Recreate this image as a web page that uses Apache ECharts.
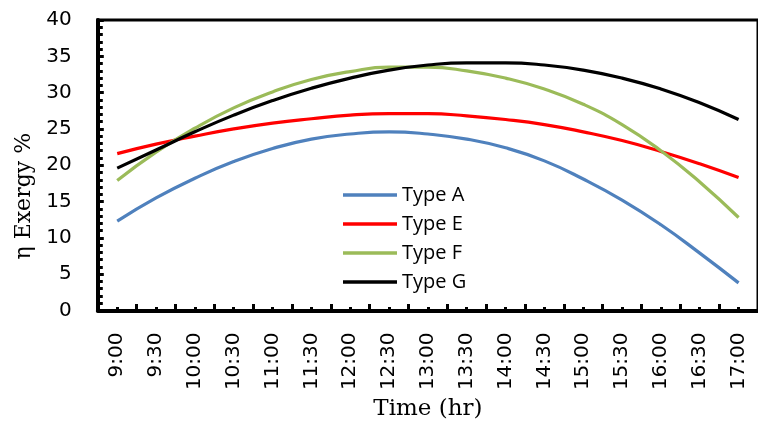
<!DOCTYPE html>
<html>
<head>
<meta charset="utf-8">
<script src="https://cdn.jsdelivr.net/npm/echarts@6/dist/echarts.min.js"></script>
<style>
  html, body { margin: 0; padding: 0; background: #fff; }
  #main { width: 758px; height: 426px; }
</style>
</head>
<body>
<div id="main"></div>
<script>
  // time of day, every half hour
  var times = ['9:00', '9:30', '10:00', '10:30', '11:00', '11:30', '12:00', '12:30', '13:00',
               '13:30', '14:00', '14:30', '15:00', '15:30', '16:00', '16:30', '17:00'];

  // exergy efficiency (%)
  var typeA = [12.3, 15.5, 18.2, 20.5, 22.3, 23.6, 24.3, 24.6, 24.3, 23.6, 22.4, 20.6, 18.1, 15.2, 11.8, 7.9, 3.8];
  var typeE = [21.6, 22.9, 24.0, 25.0, 25.8, 26.4, 26.9, 27.1, 27.1, 26.8, 26.3, 25.6, 24.6, 23.4, 21.9, 20.2, 18.3];
  var typeF = [17.9, 21.8, 25.1, 27.9, 30.1, 31.8, 32.9, 33.5, 33.5, 33.0, 32.0, 30.5, 28.4, 25.6, 22.0, 17.7, 12.8];
  var typeG = [19.6, 22.1, 24.6, 26.9, 28.9, 30.6, 32.0, 33.1, 33.8, 34.1, 34.1, 33.8, 33.1, 32.0, 30.5, 28.6, 26.3];

  var seriesNames = ['Type A', 'Type E', 'Type F', 'Type G'];
  var seriesColors = ['#4F81BD', '#FF0000', '#9BBB59', '#000000'];
  var yTicks = [0, 40, 5];

  function toHours(s) {
    var p = s.split(':');
    return +p[0] + (+p[1]) / 60;
  }

  function pairs(vals) {
    return vals.map(function (v, i) { return [toHours(times[i]), v]; });
  }

  // only the half hours get a label
  function fmtTime(v) {
    var q = Math.round(v * 4);
    if (q % 2) return '';
    return Math.floor(q / 4) + ':' + (q % 4 ? '30' : '00');
  }

  var xMin = toHours(times[0]) - 0.25;
  var xMax = toHours(times[times.length - 1]) + 0.25;

  var myChart = echarts.init(document.getElementById('main'), null, {renderer: 'canvas'});

  myChart.setOption({
    animation: false,
    backgroundColor: '#fff',
    grid: {
      left: 97.8,
      right: -4.2,
      top: 20,
      bottom: 113,
      show: true,
      borderColor: '#000',
      borderWidth: 3,
      backgroundColor: 'transparent'
    },
    legend: {
      data: seriesNames,
      orient: 'vertical',
      left: 343,
      top: 185,
      padding: 0,
      icon: 'rect',
      itemWidth: 54,
      itemHeight: 3.5,
      itemGap: 9,
      textStyle: {fontFamily: 'Open Sans', fontSize: 20, color: '#000'}
    },
    xAxis: [
      {
        // labels + short ticks every quarter hour
        type: 'value',
        position: 'bottom',
        min: xMin,
        max: xMax,
        interval: 0.25,
        name: 'Time (hr)',
        nameLocation: 'middle',
        nameGap: 85,
        nameTextStyle: {fontFamily: 'DejaVu Serif', fontSize: 23, color: '#000'},
        axisLine: {show: true, lineStyle: {color: '#000', width: 4}},
        axisTick: {show: true, inside: true, length: 3.5, lineStyle: {color: '#000', width: 3}},
        axisLabel: {
          rotate: 90,
          margin: 22,
          fontFamily: 'DejaVu Sans',
          fontSize: 20,
          color: '#000',
          formatter: fmtTime
        },
        splitLine: {show: false}
      },
      {
        // taller ticks between the half hours (shifted scale, no data)
        type: 'value',
        position: 'bottom',
        min: 0,
        max: xMax - xMin,
        interval: 0.5,
        axisLine: {show: false},
        axisTick: {show: true, inside: true, length: 6.5, lineStyle: {color: '#000', width: 3}},
        axisLabel: {show: false},
        splitLine: {show: false}
      }
    ],
    yAxis: {
      type: 'value',
      min: yTicks[0],
      max: yTicks[1],
      interval: yTicks[2],
      name: 'η Exergy %',
      nameLocation: 'middle',
      nameGap: 54,
      nameTextStyle: {fontFamily: 'DejaVu Serif', fontSize: 22, color: '#000', padding: [0, 62, 0, 0]},
      axisLine: {show: true, lineStyle: {color: '#000', width: 4}},
      axisTick: {show: true, inside: true, length: 6, lineStyle: {color: '#000', width: 3}},
      minorTick: {show: true, splitNumber: 5, length: 5, lineStyle: {color: '#000', width: 3}},
      axisLabel: {margin: 26, fontFamily: 'DejaVu Sans', fontSize: 20, color: '#000'},
      splitLine: {show: false}
    },
    series: seriesNames.map(function (name, i) {
      return {
        name: name,
        type: 'line',
        xAxisIndex: 0,
        smooth: true,
        symbol: 'none',
        showSymbol: false,
        color: seriesColors[i],
        lineStyle: {color: seriesColors[i], width: 3.2},
        data: pairs([typeA, typeE, typeF, typeG][i])
      };
    })
  });
</script>
</body>
</html>
